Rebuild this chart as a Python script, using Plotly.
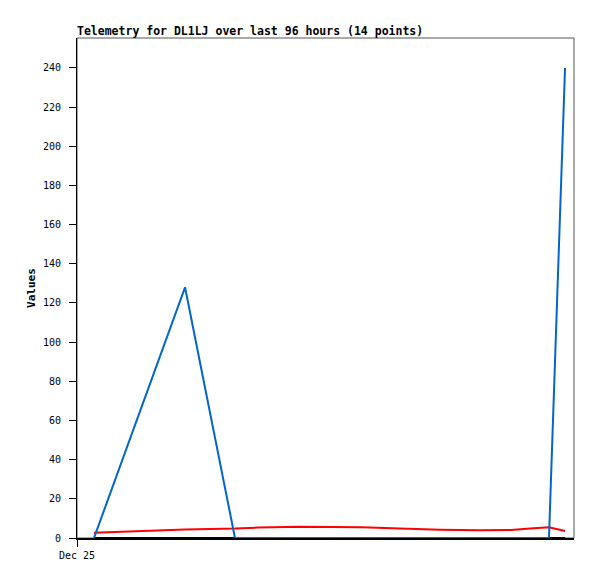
import plotly.graph_objects as go

times = ["2024-12-25 03:17", "2024-12-25 20:52", "2024-12-26 06:31", "2024-12-26 11:00",
         "2024-12-26 19:04", "2024-12-27 07:03", "2024-12-27 14:23", "2024-12-27 22:07",
         "2024-12-28 05:50", "2024-12-28 11:50", "2024-12-28 15:30", "2024-12-28 17:26",
         "2024-12-28 19:10", "2024-12-28 22:16"]
blue_vals = [0, 128, 0, 0, 0, 0, 0, 0, 0, 0, 0, 0, 0, 240]
red_vals = [2.7, 4.4, 4.8, 5.3, 5.8, 5.5, 4.9, 4.2, 3.9, 4.1, 4.8, 5.1, 5.5, 3.6]
black_vals = [0] * 14
y_ticks = list(range(0, 241, 20))
x_tick_vals = ["2024-12-25 00:00"]
x_tick_text = ["Dec 25"]

W, H = 597, 579
fig = go.Figure()
fig.add_trace(go.Scatter(x=times, y=black_vals, mode="lines", line=dict(color="#000000", width=2)))
fig.add_trace(go.Scatter(x=times, y=red_vals, mode="lines", line=dict(color="#ff0000", width=2)))
fig.add_trace(go.Scatter(x=times, y=blue_vals, mode="lines", line=dict(color="#0066cc", width=2)))

fig.update_layout(
    width=W, height=H,
    margin=dict(l=69, r=31, t=30, b=49),
    paper_bgcolor="white", plot_bgcolor="white",
    showlegend=False,
    font=dict(family="DejaVu Sans Mono", size=10, color="black"),
    title=dict(text="<b>Telemetry for DL1LJ over last 96 hours (14 points)</b>",
               x=69 / W, xanchor="left", y=1 - 23 / H, yanchor="middle",
               font=dict(family="DejaVu Sans Mono", size=11.5, color="black")),
    shapes=[dict(type="rect", xref="paper", yref="paper", x0=0, x1=1, y0=0, y1=1,
                 line=dict(color="#555555", width=1), layer="below")],
)
fig.update_xaxes(
    type="date", range=["2024-12-25 00:00", "2024-12-29 00:00"],
    tickvals=x_tick_vals, ticktext=x_tick_text,
    showgrid=False, zeroline=False, showline=True, linecolor="black", linewidth=2,
    ticks="outside", ticklen=7, tickcolor="black",
    tickfont=dict(family="DejaVu Sans Mono", size=10),
)
fig.update_yaxes(
    range=[0, 255.3], tickvals=y_ticks,
    showgrid=False, zeroline=False, showline=True, linecolor="black", linewidth=1,
    ticks="outside", ticklen=7, tickcolor="black", ticklabelstandoff=6,
    tickfont=dict(family="DejaVu Sans Mono", size=10),
    title=dict(text="<b>Values</b>", font=dict(family="DejaVu Sans Mono", size=11), standoff=5),
)
fig.write_html("out.html")
